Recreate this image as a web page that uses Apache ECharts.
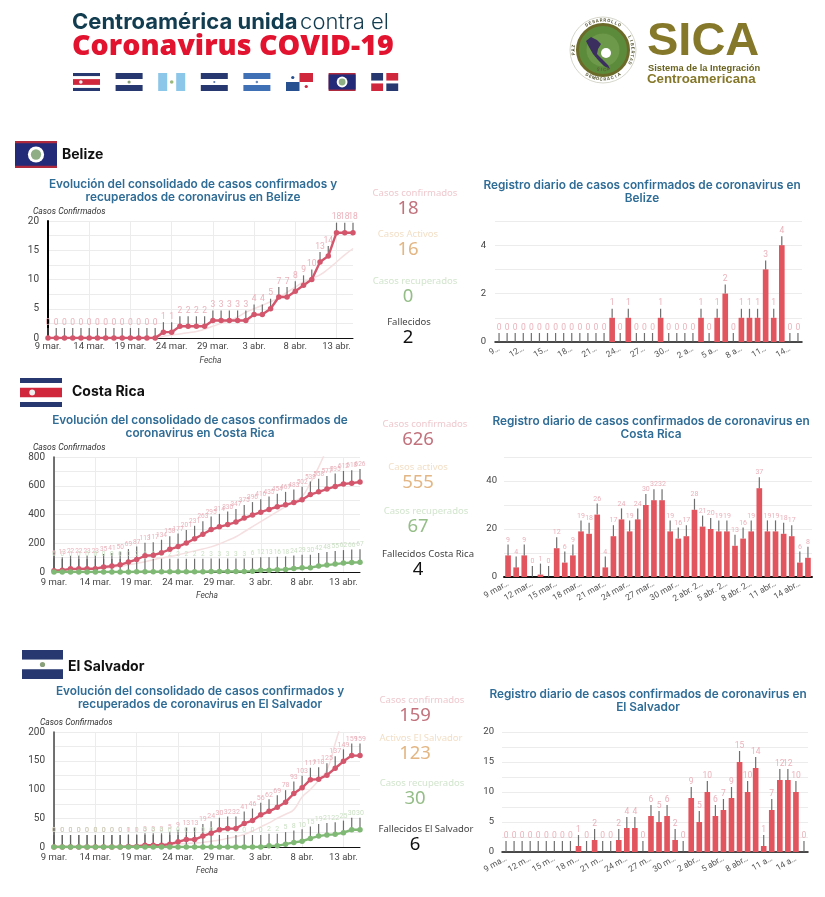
<!DOCTYPE html>
<html>
<head>
<meta charset="utf-8">
<title>Centroamérica unida contra el Coronavirus COVID-19</title>
<style>html,body{margin:0;background:#fff}#main{width:825px;height:897px;filter:blur(.35px)}</style>
<script src="https://cdn.jsdelivr.net/npm/echarts@6/dist/echarts.min.js"></script>
</head>
<body>
<div id="main"></div>
<script>
// fechas comunes a todas las gráficas
const dates = ['9 mar.','10 mar.','11 mar.','12 mar.','13 mar.','14 mar.','15 mar.','16 mar.','17 mar.','18 mar.','19 mar.','20 mar.','21 mar.','22 mar.','23 mar.','24 mar.','25 mar.','26 mar.','27 mar.','28 mar.','29 mar.','30 mar.','31 mar.','1 abr.','2 abr.','3 abr.','4 abr.','5 abr.','6 abr.','7 abr.','8 abr.','9 abr.','10 abr.','11 abr.','12 abr.','13 abr.','14 abr.','15 abr.']

// Belize
const belizeTotal = [0,0,0,0,0,0,0,0,0,0,0,0,0,0,1,1,2,2,2,2,3,3,3,3,3,4,4,5,7,7,8,9,10,13,14,18,18,18]
const belizeTrend = [0,0,0,0,0,0,0,0,0,0,0,0,0,0,0.3,0.5,0.7,0.9,1.1,1.5,2,2.5,3,3.6,4.4,5,5.6,6.2,6.9,7.8,8.7,9.6,10.2,10.8,11.8,13,14.2,15.3]
const belizeDaily = [0,0,0,0,0,0,0,0,0,0,0,0,0,0,1,0,1,0,0,0,1,0,0,0,0,1,0,1,2,0,1,1,1,3,1,4,0,0]
const belizeTicks = ['9…','12…','15…','18…','21…','24…','27…','30…','2 a…','5 a…','8 a…','11…','14…']

// Costa Rica
const costaRicaTotal = [9,13,22,22,23,23,35,41,50,69,87,113,117,134,158,177,201,231,263,295,314,330,347,375,396,416,435,454,467,483,502,539,558,577,595,612,618,626]
const costaRicaRecovered = [0,0,0,0,0,0,0,0,0,0,2,2,2,2,2,2,2,2,2,3,3,3,3,3,6,12,13,16,18,24,29,30,42,48,55,62,66,67]
const costaRicaTrend = [8,10,12,15,18,22,26,32,40,50,60,72,85,97,108,120,133,147,160,175,195,220,245,280,315,350,385,420,455,490,525,620,730,860,1000,1150,1300,1450]
const costaRicaDaily = [9,4,9,0,1,0,12,6,9,19,18,26,4,17,24,19,24,30,32,32,19,16,17,28,21,20,19,19,13,16,19,37,19,19,18,17,6,8]
const costaRicaTicks = ['9 mar…','12 mar…','15 mar…','18 mar…','21 mar…','24 mar…','27 mar…','30 mar…','2 abr. 2…','5 abr. 2…','8 abr. 2…','11 abr…','14 abr…']

// El Salvador
const salvadorTotal = [0,0,0,0,0,0,0,0,0,1,1,3,3,3,5,9,13,13,19,24,30,32,32,41,46,56,62,69,78,93,103,117,118,125,137,149,159,159]
const salvadorRecovered = [0,0,0,0,0,0,0,0,0,0,0,0,0,0,0,0,0,0,0,0,0,0,0,0,0,0,2,2,5,8,10,15,19,21,22,25,30,30]
const salvadorTrend = [0,0,0,0,0,0,0,0,0,0,0,1,2,3,4,5,6,7,8,10,12,15,18,22,28,35,42,50,57,65,87,100,116,134,180,230,290,350]
const salvadorDaily = [0,0,0,0,0,0,0,0,0,1,0,2,0,0,2,4,4,0,6,5,6,2,0,9,5,10,6,7,9,15,10,14,1,7,12,12,10,0]
const salvadorTicks = ['9 ma…','12 m…','15 m…','18 m…','21 m…','24 m…','27 m…','30 m…','2 abr…','5 abr…','8 abr…','11 a…','14 a…']

// cifras de las columnas centrales
const belizeStats = ['Casos confirmados','18','Casos Activos','16','Casos recuperados','0','Fallecidos','2']
const costaRicaStats = ['Casos confirmados','626','Casos activos','555','Casos recuperados','67','Fallecidos Costa Rica','4']
const salvadorStats = ['Casos confirmados','159','Activos El Salvador','123','Casos recuperados','30','Fallecidos El Salvador','6']

const FONT = 'Roboto'
const TITLE_FONT = 'Inter'
const C = { red:'#d4566c', bar:'#e2555f', green:'#80b975', trend:'#f5dfe0', redLb:'#e8aab4', greenLb:'#c3dcbb', stem:'#5f5f5f', grid:'#ececec', tick:'#444', title:'#2f6c96' }

const titles=[], grids=[], xAxes=[], yAxes=[], series=[]

// stem + etiqueta encima de cada punto (anotación estilo Google Charts)
function stems(i, data, h, labelColor, fs){
  return { type:'scatter', xAxisIndex:i, yAxisIndex:i, data, silent:true, z:3,
    symbol:'rect', symbolSize:[1.2,h], symbolOffset:[0,-h/2],
    itemStyle:{color:C.stem, opacity:.9},
    label:{show:true, position:'top', distance:1, color:labelColor, fontSize:fs, fontFamily:FONT} }
}

function addTitle(text, cx, top){
  titles.push({ text, left:cx, top, textAlign:'center', padding:0, textStyle:{ color:C.title, fontFamily:TITLE_FONT, fontWeight:600, fontSize:11.8, lineHeight:13 } })
}

function lineChart(o){
  const i = grids.length
  grids.push({ left:o.left, width:o.width, top:o.top, height:o.height, containLabel:false })
  xAxes.push({ gridIndex:i, type:'category', boundaryGap:false, data:dates,
    name:'Fecha', nameLocation:'middle', nameGap:o.fechaGap, nameTextStyle:{ fontStyle:'italic', fontSize:8.5, color:'#444', fontFamily:FONT, padding:[0,0,0,o.fechaPad||0] },
    axisLine:{ lineStyle:{color:'#111', width:1} }, axisTick:{show:false},
    axisLabel:{ interval:4, color:C.tick, fontSize:9.5, margin:o.labelMargin, fontFamily:FONT },
    splitLine:{ show:true, interval:4, lineStyle:{color:C.grid, width:1} } })
  yAxes.push({ gridIndex:i, type:'value', min:0, max:o.max, interval:o.step,
    name:'Casos Confirmados', nameLocation:'end', nameGap:o.nameGap, nameTextStyle:{ fontStyle:'italic', fontSize:8.5, color:'#333', fontFamily:FONT, align:'left', padding:[0,0,0,o.namePad] },
    axisLine:{ show:true, lineStyle:{color:o.axisColor, width:o.axisW} }, axisTick:{show:false},
    axisLabel:{ color:C.tick, fontSize:10, margin:9, fontFamily:FONT, formatter:v => v%(o.step*2)===0 ? v : '' },
    splitLine:{ lineStyle:{color:C.grid, width:1} } })
  series.push({ type:'line', xAxisIndex:i, yAxisIndex:i, data:o.trend, smooth:true, showSymbol:false, silent:true, z:2, lineStyle:{color:C.trend, width:1.5} })
  series.push(stems(i, o.total, o.stem, C.redLb, o.fs))
  series.push({ type:'line', xAxisIndex:i, yAxisIndex:i, data:o.total, symbol:'circle', symbolSize:5.5, showAllSymbol:true, z:4, lineStyle:{color:C.red, width:2.4}, itemStyle:{color:C.red} })
  if(o.recovered){
    series.push(stems(i, o.recovered, o.stem, C.greenLb, o.fs))
    series.push({ type:'line', xAxisIndex:i, yAxisIndex:i, data:o.recovered, symbol:'circle', symbolSize:5.5, showAllSymbol:true, z:5, lineStyle:{color:C.green, width:2.4}, itemStyle:{color:C.green} })
  }
}

function barChart(o){
  const i = grids.length
  grids.push({ left:o.left, width:o.width, top:o.top, height:o.height, containLabel:false })
  xAxes.push({ gridIndex:i, type:'category', data:dates,
    axisLine:{ lineStyle:{color:'#111', width:o.axisW} }, axisTick:{show:false},
    axisLabel:{ interval:2, rotate:30, color:'#555', fontSize:8.5, margin:6, fontFamily:FONT, formatter:(v,idx) => o.ticks[idx/3] } })
  yAxes.push({ gridIndex:i, type:'value', min:0, max:o.max, interval:o.step,
    axisLine:{show:false}, axisTick:{show:false},
    axisLabel:{ color:C.tick, fontSize:9.5, margin:o.margin, fontFamily:FONT, formatter:v => v%o.labelEvery===0 ? v : '' },
    splitLine:{ lineStyle:{color:C.grid, width:1} } })
  series.push({ type:'bar', xAxisIndex:i, yAxisIndex:i, data:o.daily, barWidth:'70%', itemStyle:{color:C.bar}, z:2 })
  series.push(stems(i, o.daily, o.stem, C.redLb, o.fs))
}

addTitle('Evolución del consolidado de casos confirmados y\nrecuperados de coronavirus en Belize', 193, 178)
addTitle('Registro diario de casos confirmados de coronavirus en\nBelize', 642, 179)
addTitle('Evolución del consolidado de casos confirmados de\ncoronavirus en Costa Rica', 200, 414)
addTitle('Registro diario de casos confirmados de coronavirus en\nCosta Rica', 651, 415)
addTitle('Evolución del consolidado de casos confirmados y\nrecuperados de coronavirus en El Salvador', 200, 685)
addTitle('Registro diario de casos confirmados de coronavirus en\nEl Salvador', 648, 688)

lineChart({ left:48, width:305, top:221, height:117, max:20, step:2.5, total:belizeTotal, trend:belizeTrend, stem:10, fs:8.5, axisColor:'#000', axisW:2, namePad:-15, nameGap:1, fechaPad:20, labelMargin:4, fechaGap:18 })
lineChart({ left:54, width:306, top:457, height:115, max:800, step:100, total:costaRicaTotal, recovered:costaRicaRecovered, trend:costaRicaTrend, stem:13, fs:6.5, axisColor:'#444', axisW:1.5, namePad:-21, nameGap:3, labelMargin:6, fechaGap:19 })
lineChart({ left:54, width:306, top:732, height:115, max:200, step:25, total:salvadorTotal, recovered:salvadorRecovered, trend:salvadorTrend, stem:12, fs:7, axisColor:'#444', axisW:1.5, namePad:-14, nameGap:4, labelMargin:6, fechaGap:19 })
barChart({ left:495, width:307, top:221, height:121, max:5, step:1, labelEvery:2, daily:belizeDaily, ticks:belizeTicks, stem:9, fs:8.5, axisW:1.5, margin:9 })
barChart({ left:504, width:308, top:457, height:120, max:50, step:10, labelEvery:20, daily:costaRicaDaily, ticks:costaRicaTicks, stem:11, fs:7, axisW:2, margin:7 })
barChart({ left:502, width:306, top:732, height:120, max:20, step:2.5, labelEvery:5, daily:salvadorDaily, ticks:salvadorTicks, stem:11, fs:8.5, axisW:1.5, margin:8 })

// ---- elementos de cabecera, banderas y cifras ----
const g = []
function txt(text, x, y, fontSize, fill, extra){
  g.push({ type:'text', x, y, silent:true, style:Object.assign({ text, fontSize, fill, fontFamily:FONT, align:'center', verticalAlign:'middle' }, extra||{}) })
}
function rect(x, y, width, height, fill){ g.push({ type:'rect', silent:true, shape:{x,y,width,height}, style:{fill} }) }
function circle(cx, cy, r, fill, stroke, lineWidth){ g.push({ type:'circle', silent:true, shape:{cx,cy,r}, style:{fill, stroke, lineWidth} }) }
function hStripes(x, y, w, h, cols){ cols.forEach((c,k) => rect(x, y+h*k/cols.length, w, h/cols.length, c)) }

const BLUE='#26386f', RED='#d0273d'
function flagCR(x,y,w,h){
  rect(x,y,w,h,BLUE); rect(x,y+h*.17,w,h*.66,'#fff'); rect(x,y+h*.34,w,h*.32,RED)
  circle(x+w*.29,y+h/2,h*.1,'#eee')
}
function flagSV(x,y,w,h){ hStripes(x,y,w,h,[BLUE,'#fff',BLUE]); circle(x+w/2,y+h/2,h*.09,'#8aa07a') }
function flagGT(x,y,w,h){ rect(x,y,w,h,'#8cc6e8'); rect(x+w/3,y,w/3,h,'#fff'); circle(x+w/2,y+h/2,h*.1,'#9cb87c') }
function flagHN(x,y,w,h){ hStripes(x,y,w,h,[BLUE,'#fff',BLUE]); circle(x+w/2,y+h/2,h*.06,'#5c7ab0') }
function flagNI(x,y,w,h){ hStripes(x,y,w,h,['#3f6fb5','#fff','#3f6fb5']); circle(x+w/2,y+h/2,h*.07,'#6b8bbd') }
function flagPA(x,y,w,h){
  rect(x,y,w,h,'#fff'); rect(x+w/2,y,w/2,h/2,RED); rect(x,y+h/2,w/2,h/2,'#26508f')
  circle(x+w/4,y+h/4,h*.09,'#26508f'); circle(x+w*.75,y+h*.75,h*.09,RED)
}
function flagBZ(x,y,w,h){
  rect(x,y,w,h,'#b02a3e'); rect(x,y+h*.08,w,h*.84,'#232a78')
  circle(x+w/2,y+h/2,h*.3,'#fff'); circle(x+w/2,y+h/2,h*.19,'#8fae86')
}
function flagDO(x,y,w,h){
  rect(x,y,w,h,'#fff')
  rect(x,y,w*.44,h*.42,BLUE); rect(x+w*.56,y,w*.44,h*.42,RED)
  rect(x,y+h*.58,w*.44,h*.42,RED); rect(x+w*.56,y+h*.58,w*.44,h*.42,BLUE)
}

// cabecera izquierda
txt('Centroamérica unida', 72, 22, 22, '#123c50', { align:'left', fontFamily:'Inter', fontWeight:700 })
txt('contra el', 389, 22, 22, '#123c50', { align:'right', fontFamily:'Inter', fontWeight:300 })
txt('Coronavirus COVID-19', 72, 47, 28.6, '#e2132f', { align:'left', fontFamily:'Open Sans', fontWeight:800 })
;[flagCR,flagSV,flagGT,flagHN,flagNI,flagPA,flagBZ,flagDO].forEach((f,k) => f(73+k*42.6, 73, 27, 18))

// logo SICA
const LOGO = { cx:603, cy:50 }
// texto en arco: mid = ángulo central (0 arriba, horario); down = letras hacia fuera abajo
function arcText(s, r, span, mid, down){
  ;[...s].forEach((ch,k) => {
    const d = (k/(s.length-1)-.5)*span
    const a = down ? mid-d : mid+d
    g.push({ type:'text', x:LOGO.cx+r*Math.sin(a), y:LOGO.cy-r*Math.cos(a), rotation: down ? Math.PI-a : -a, silent:true,
      style:{ text:ch, fontSize:4.5, fill:'#5b5b3a', fontFamily:FONT, fontWeight:700, align:'center', verticalAlign:'middle' } })
  })
}
circle(LOGO.cx, LOGO.cy, 33, '#fff', '#c4c4b4', .7)
circle(LOGO.cx, LOGO.cy, 25.5, '#5d8b3c', '#6c6a28', 3)
circle(LOGO.cx, LOGO.cy, 17, '#6d9a4a', '#5d8b3c', 1)
circle(LOGO.cx+3, LOGO.cy+3, 5, '#fff')
g.push({ type:'polygon', silent:true, shape:{ points:[[586,41],[591,37],[597,40],[601,44],[598,49],[597,54],[602,59],[608,65],[610,69],[604,66],[598,60],[593,54],[589,47]] }, style:{fill:'#3b2f5f'} })
arcText('DESARROLLO', 29.5, 1.15, 0, false)
arcText('DEMOCRACIA', 29.5, 1.15, Math.PI, true)
arcText('LIBERTAD', 29.5, .9, Math.PI/2, false)
arcText('PAZ', 29.5, .26, -Math.PI/2, false)
arcText('SICA', 20, .5, Math.PI, true)
txt('SICA', 647, 42, 47, '#85782a', { align:'left', fontFamily:'Liberation Sans', fontWeight:700 })
txt('Sistema de la Integración', 648, 68, 9.3, '#6a6420', { align:'left', fontFamily:'Liberation Sans', fontWeight:700 })
txt('Centroamericana', 647, 79, 13.3, '#85782a', { align:'left', fontFamily:'Liberation Sans', fontWeight:700 })

// encabezados de país
flagBZ(15,141,42,27)
txt('Belize', 62, 155, 14, '#111', { align:'left', fontFamily:'Inter', fontWeight:700 })
flagCR(20,378,42,29)
txt('Costa Rica', 72, 392, 14, '#111', { align:'left', fontFamily:'Inter', fontWeight:700 })
flagSV(22,650,41,29)
txt('El Salvador', 68, 667, 14, '#111', { align:'left', fontFamily:'Inter', fontWeight:700 })

// columnas de cifras: [texto, valor] x 4
const STAT_COL = [['#efc9ce','#c2727d'],['#f2dfc6','#e3b684'],['#d2e5cd','#94bd87'],['#444','#111']]
function statColumn(stats, labelX, valueX, ys){
  STAT_COL.forEach((c,k) => {
    txt(stats[k*2], labelX[k], ys[k], 9.5, c[0], {fontFamily:'Noto Sans'})
    txt(stats[k*2+1], valueX, ys[k]+16, 18.5, c[1], {fontFamily:'Noto Sans'})
  })
}
statColumn(belizeStats, [415,408,415,409], 408, [193,234,281,322])
statColumn(costaRicaStats, [425,418,426,428], 418, [424,467,511,554])
statColumn(salvadorStats, [422,421,422,426], 415, [700,738,783,829])

const chart = echarts.init(document.getElementById('main'), null, {renderer:'canvas'})
chart.setOption({ backgroundColor:'#fff', animation:false, tooltip:{show:false}, title:titles, grid:grids, xAxis:xAxes, yAxis:yAxes, series, graphic:g })
</script>
</body>
</html>
